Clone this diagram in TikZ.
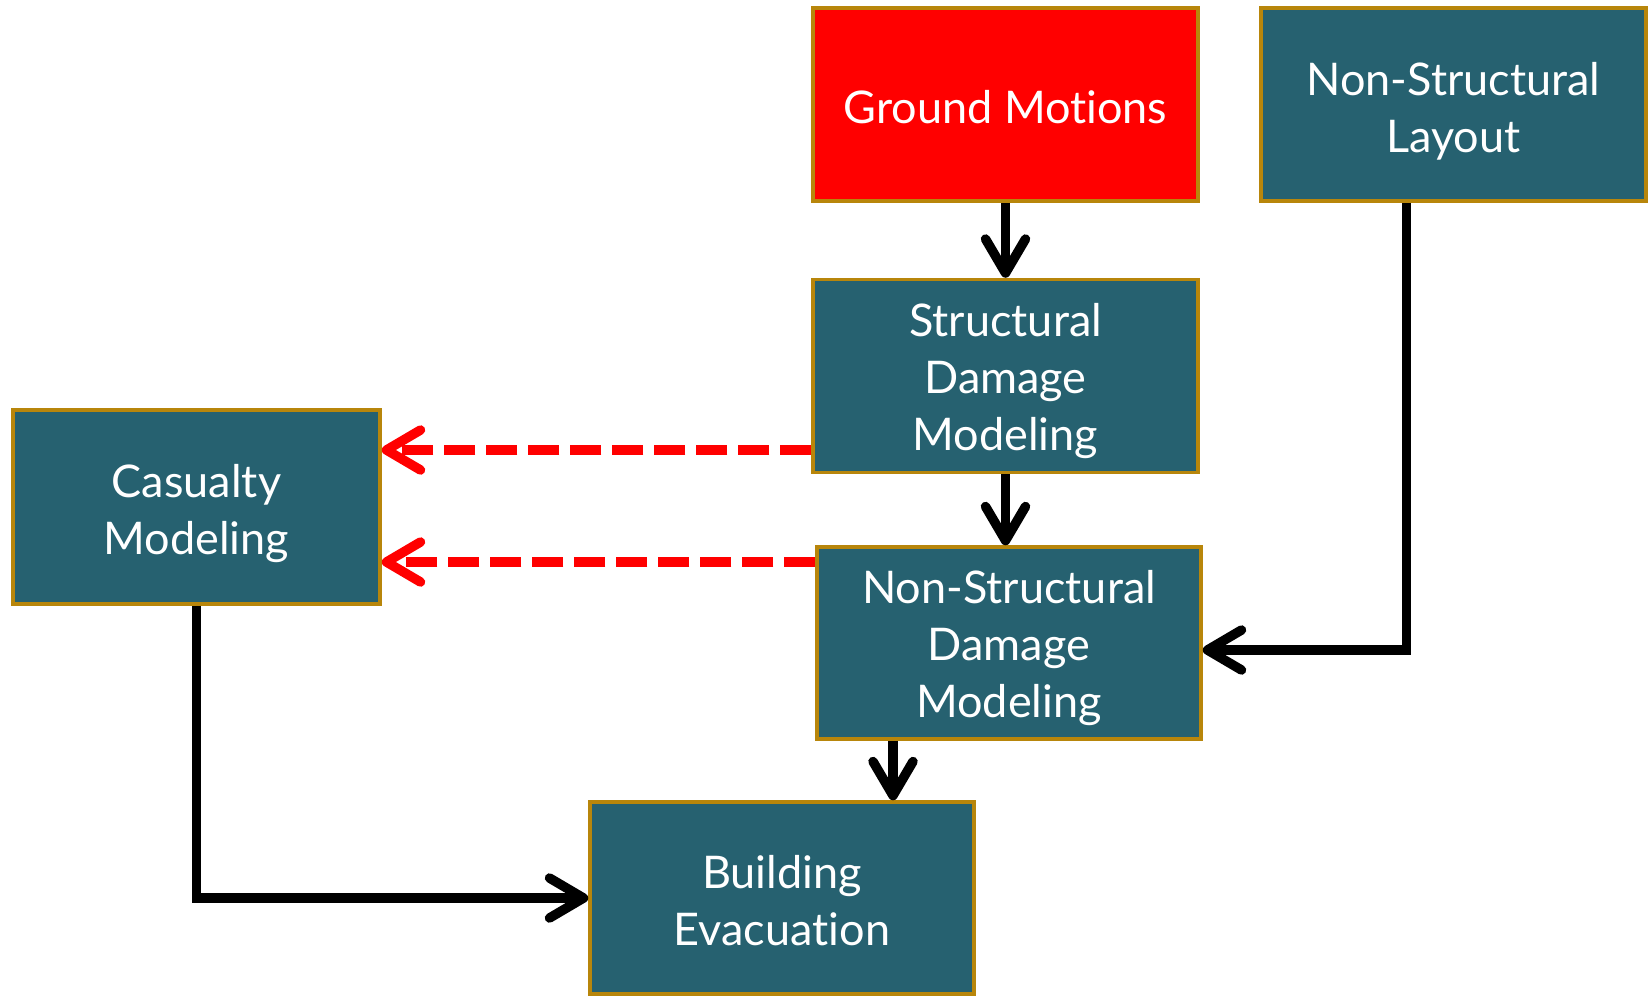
\documentclass[tikz,border=0pt]{standalone}
\usepackage{fontspec}
\setmainfont{Lato}[Ligatures=NoCommon]
\usetikzlibrary{arrows.meta,calc}
\definecolor{boxteal}{RGB}{38,97,112}
\definecolor{boxgold}{RGB}{184,134,11}
\definecolor{gmred}{RGB}{255,0,0}
\newcommand{\lowr}[1]{\rule{0pt}{#1}}
\begin{document}
\begin{tikzpicture}[x=1pt,y=-1pt,
  box/.style={draw=boxgold, line width=3.5pt, fill=boxteal, text=white,
    minimum width=385pt, minimum height=193pt, align=center, inner sep=0pt,
    font=\fontsize{45}{57}\selectfont},
  conn/.style={line width=9.5pt, draw=black,
    -{Straight Barb[length=34pt,width=40pt,round]}},
  dconn/.style={line width=9.5pt, draw=gmred, dash pattern=on 31pt off 11pt,
    -{Straight Barb[length=34pt,width=40pt,round]}}]
\useasboundingbox (0,0) rectangle (1648,997);
\node[box, fill=gmred] (gm) at (1005.5,104.5) {\lowr{38pt}Ground Motions};
\node[box] (sdm) at (1005.5,376) {\lowr{43pt}Structural\\Damage\\Modeling};
\node[box] (nsl) at (1453.5,104.5) {\lowr{46pt}Non-Structural\\Layout};
\node[box, minimum width=367pt, minimum height=194pt] (cas) at (196.5,507) {\lowr{46pt}Casualty\\Modeling};
\node[box, minimum width=384pt, minimum height=192pt] (nsdm) at (1009,643) {\lowr{43pt}Non-Structural\\Damage\\Modeling};
\node[box, minimum width=384pt, minimum height=192pt] (be) at (782,898) {\lowr{38pt}Building\\Evacuation};
\coordinate (d1) at ([yshift=-74pt]sdm.west);
\coordinate (d2) at ([yshift=81pt]nsdm.west);
\draw[conn] (gm.south) -- (sdm.north);
\draw[conn] (sdm.south) -- (sdm.south |- nsdm.north);
\draw[conn] ([xshift=-116pt]nsdm.south) -- ([xshift=-116pt]nsdm.south |- be.north);
\draw[conn] ([xshift=-47pt]nsl.south) |- ([yshift=-7pt]nsdm.east);
\draw[conn] (cas.south) |- (be.west);
\draw[dconn] (d1) -- (cas.east |- d1);
\draw[dconn] (d2) -- (cas.east |- d2);
\end{tikzpicture}
\end{document}
